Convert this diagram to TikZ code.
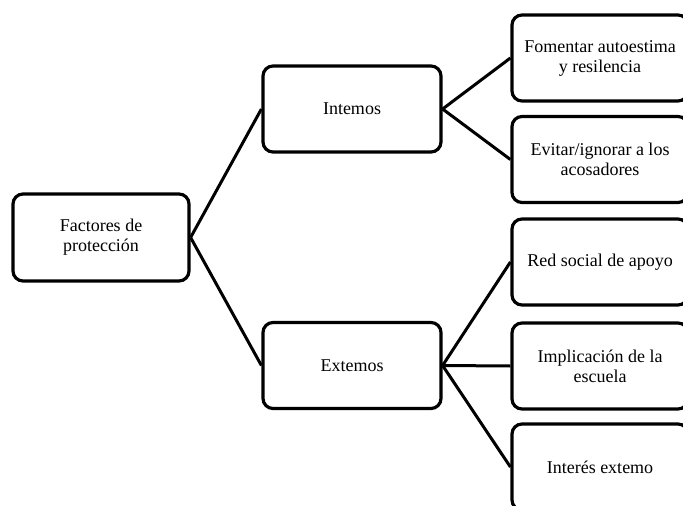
\documentclass[tikz,border=0pt]{standalone}
\usepackage{fontspec}
\setmainfont{Liberation Serif}
\begin{document}
\begin{tikzpicture}[x=1pt,y=-1pt,
  box/.style={draw=black,line width=3.2pt,rounded corners=10pt,fill=white,
    align=center,inner sep=0pt,font=\fontsize{18}{20}\selectfont},
  link/.style={draw=black,line width=3pt}]
\useasboundingbox (0,0) rectangle (683,506);
\clip (0,0) rectangle (683,506);
\node[box,minimum width=176pt,minimum height=87pt] (root) at (101,237.5) {Factores de\\protección};
\node[box,minimum width=178pt,minimum height=86pt] (int) at (352,109) {Intemos};
\node[box,minimum width=178pt,minimum height=86pt] (ext) at (352,365.5) {Extemos};
\node[box,minimum width=176pt,minimum height=86pt] (b1) at (600,58) {Fomentar autoestima\\y resilencia};
\node[box,minimum width=176pt,minimum height=86pt] (b2) at (600,159.5) {Evitar/ignorar a los\\acosadores};
\node[box,minimum width=176pt,minimum height=86pt] (b3) at (600,262) {Red social de apoyo};
\node[box,minimum width=176pt,minimum height=86pt] (b4) at (600,366) {Implicación de la\\escuela};
\node[box,minimum width=176pt,minimum height=86pt] (b5) at (600,467) {Interés extemo};
\draw[link] (root.east) -- (int.west);
\draw[link] (root.east) -- (ext.west);
\draw[link] (int.east) -- (b1.west);
\draw[link] (int.east) -- (b2.west);
\draw[link] (ext.east) -- (b3.west);
\draw[link] (ext.east) -- (b4.west);
\draw[link] (ext.east) -- (b5.west);
\end{tikzpicture}
\end{document}
